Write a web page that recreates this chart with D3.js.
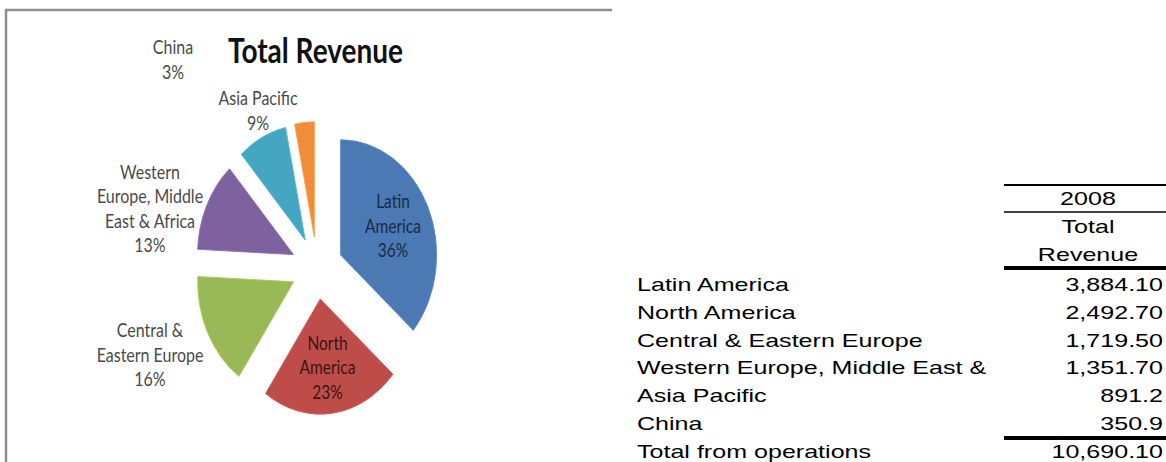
<!DOCTYPE html>
<html>
<head>
<meta charset="utf-8">
<script src="https://cdn.jsdelivr.net/npm/d3@7"></script>
<style>
  html, body { margin: 0; padding: 0; background: #fff; }
  svg { display: block; }
</style>
</head>
<body>
<svg id="chart" width="1166" height="462"></svg>
<script>
// ---------- data ----------
const regions = ["Latin America", "North America", "Central & Eastern Europe",
  "Western Europe, Middle East & Africa", "Asia Pacific", "China"];
const revenue = [3884.10, 2492.70, 1719.50, 1351.70, 891.2, 350.9];
const revenueText = ["3,884.10", "2,492.70", "1,719.50", "1,351.70", "891.2", "350.9"];
const pctLabels = ["36%", "23%", "16%", "13%", "9%", "3%"];
const pieNames = [["Latin", "America"], ["North", "America"], ["Central &", "Eastern Europe"],
  ["Western", "Europe, Middle", "East & Africa"], ["Asia Pacific"], ["China"]];
const tableNames = ["Latin America", "North America", "Central & Eastern Europe",
  "Western Europe, Middle East &", "Asia Pacific", "China"];
const chartTitle = "Total Revenue";
const headerYear = "2008";
const headerMeasure = ["Total", "Revenue"];
const totalLabel = "Total from operations";
const totalText = "10,690.10";

// ---------- styles / layout ----------
const colors = ["#4a79b4", "#be4d4a", "#98b955", "#7e62a0", "#44a6c0", "#f08c3a"];
const insideText = ["#1b2a45", "#3a1513"];
const outsideColor = "#4a4a4a";
const svg = d3.select("#chart");

// frame of the chart picture
svg.append("line").attr("x1", 5).attr("x2", 612).attr("y1", 10).attr("y2", 10)
  .attr("stroke", "#8e8e8e").attr("stroke-width", 2.5);
svg.append("line").attr("x1", 6).attr("x2", 6).attr("y1", 9).attr("y2", 462)
  .attr("stroke", "#8e8e8e").attr("stroke-width", 2.5);

// ---------- pie ----------
const R = 96, EXPL = 26, SY = 1.2, CX = 317, CY = 268;
const pieData = d3.pie().sort(null).value(d => d)(revenue);
const arc = d3.arc().innerRadius(0).outerRadius(R);
const g = svg.append("g").attr("transform", `translate(${CX},${CY}) scale(1,${SY})`);
const mid = d => (d.startAngle + d.endAngle) / 2;
g.selectAll("path.slice").data(pieData).join("path")
  .attr("class", "slice")
  .attr("transform", d => `translate(${Math.sin(mid(d)) * EXPL},${-Math.cos(mid(d)) * EXPL})`)
  .attr("d", arc)
  .attr("fill", (d, i) => colors[i])
  .attr("stroke", (d, i) => d3.color(colors[i]).brighter(0.3))
  .attr("stroke-width", 0.8);

const LINE = 24.5;
function block(x, cy, lines, color, size) {
  const n = lines.length;
  lines.forEach((t, k) => {
    const y = cy + (k - (n - 1) / 2) * LINE;
    svg.append("text")
      .attr("transform", `translate(${x},${y}) scale(1,${SY})`)
      .attr("dy", "0.36em")
      .attr("text-anchor", "middle")
      .attr("font-family", "Lato, 'Open Sans', sans-serif")
      .attr("font-size", size)
      .attr("fill", color)
      .text(t);
  });
}

// inside labels placed at 0.6R along slice mid-angle
const labelR = EXPL + 0.6 * R;
[0, 1].forEach(i => {
  const a = mid(pieData[i]);
  block(CX + Math.sin(a) * labelR, CY - Math.cos(a) * labelR * SY,
    pieNames[i].concat([pctLabels[i]]), insideText[i], 15.5);
});
// outside labels (positions where the chart placed them)
const outsidePos = { 2: [150, 355], 3: [150, 208.5], 4: [258, 110.5], 5: [173, 59.5] };
[2, 3, 4, 5].forEach(i => {
  block(outsidePos[i][0], outsidePos[i][1], pieNames[i].concat([pctLabels[i]]), outsideColor, 16);
});

// title
svg.append("text")
  .attr("transform", `translate(228,63) scale(1,${SY})`)
  .attr("font-family", "Lato, sans-serif").attr("font-weight", 700)
  .attr("font-size", 28).attr("fill", "#111")
  .text(chartTitle);

// ---------- table ----------
const TX = 1.32;
const tFont = "'Liberation Sans', Arial, sans-serif";
function ttext(x, y, t, anchor) {
  svg.append("text")
    .attr("transform", `translate(${x},${y}) scale(${TX},1)`)
    .attr("text-anchor", anchor)
    .attr("font-family", tFont).attr("font-size", 19).attr("fill", "#000")
    .text(t);
}
const colRight = 1163, colMid = 1088, labelX = 637, ruleX1 = 1004, ruleX2 = 1166;
function rule(y, w) {
  svg.append("line").attr("x1", ruleX1).attr("x2", ruleX2).attr("y1", y).attr("y2", y)
    .attr("stroke", "#000").attr("stroke-width", w);
}
rule(185, 2);
ttext(colMid, 205, headerYear, "middle");
rule(212, 1.6);
ttext(colMid, 233, headerMeasure[0], "middle");
ttext(colMid, 261, headerMeasure[1], "middle");
rule(268, 4);

const rowY = d3.scalePoint().domain(d3.range(tableNames.length)).range([291, 430]);
tableNames.forEach((name, i) => {
  ttext(labelX, rowY(i), name, "start");
  ttext(colRight, rowY(i), revenueText[i], "end");
});
rule(438, 4);
ttext(labelX, 457.5, totalLabel, "start");
ttext(colRight, 457.5, totalText, "end");
</script>
</body>
</html>
